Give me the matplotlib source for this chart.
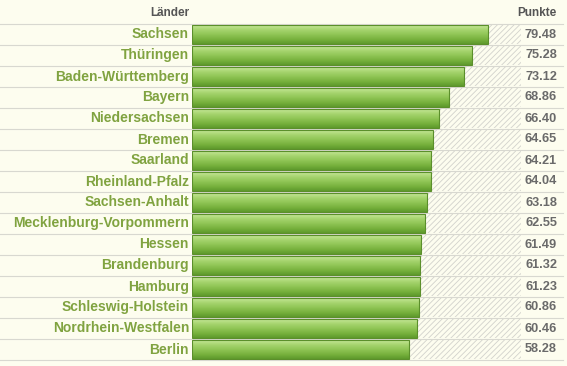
import matplotlib.pyplot as plt
import numpy as np
from matplotlib.colors import LinearSegmentedColormap
from matplotlib.transforms import blended_transform_factory

# Data
laender = ['Sachsen', 'Thüringen', 'Baden-Württemberg', 'Bayern', 'Niedersachsen',
           'Bremen', 'Saarland', 'Rheinland-Pfalz', 'Sachsen-Anhalt',
           'Mecklenburg-Vorpommern', 'Hessen', 'Brandenburg', 'Hamburg',
           'Schleswig-Holstein', 'Nordrhein-Westfalen', 'Berlin']
punkte = [79.48, 75.28, 73.12, 68.86, 66.40, 64.65, 64.21, 64.04, 63.18,
          62.55, 61.49, 61.32, 61.23, 60.86, 60.46, 58.28]
max_punkte = 88.3

plt.rcParams['font.family'] = ['Liberation Sans', 'DejaVu Sans']
plt.rcParams['hatch.linewidth'] = 0.6

bg = '#fdfdef'
fig = plt.figure(figsize=(5.67, 3.66), dpi=100, facecolor=bg)
W, H = 567, 366
ax = fig.add_axes([192 / W, (366 - 360) / H, (521 - 192) / W, 336 / H])
ax.set_facecolor(bg)
ax.set_xlim(0, max_punkte)
ax.set_ylim(len(laender) - 0.5, -0.5)
ax.axis('off')

green = LinearSegmentedColormap.from_list(
    'g', ['#5e9a2c', '#78b23e', '#8fc555', '#a6d46e', '#c4e697'])
grad = np.linspace(0, 1, 64).reshape(-1, 1)

for i, v in enumerate(punkte):
    # hatched remainder
    ax.barh(i, max_punkte - v, left=v, height=0.92, facecolor='none',
            edgecolor='#d2d2cc', hatch='//////', linewidth=0)
    # gradient bar
    ax.imshow(grad, cmap=green, aspect='auto', origin='lower',
              extent=[0, v, i + 0.43, i - 0.43], zorder=2)
    ax.barh(i, v, height=0.86, facecolor='none', edgecolor='#5b8f2b',
            linewidth=0.8, zorder=3)

# row separators across the full width
tr = blended_transform_factory(fig.transFigure, ax.transData)
for k in range(len(laender) + 1):
    ax.plot([0, 563 / W], [k - 0.5, k - 0.5], color='#d8d8d0', lw=0.8,
            transform=tr, clip_on=False, zorder=1)

for i, (name, v) in enumerate(zip(laender, punkte)):
    ax.text(189 / W, i, name, transform=tr, ha='right', va='center',
            fontsize=10, fontweight='bold', color='#80a340')
    ax.text(557 / W, i, f'{v:.2f}', transform=tr, ha='right', va='center',
            fontsize=9.2, fontweight='bold', color='#6a6a6a')

fig.text(189 / W, 1 - 13 / H, 'Länder', ha='right', va='center',
         fontsize=8.5, fontweight='bold', color='#555555')
fig.text(557 / W, 1 - 13 / H, 'Punkte', ha='right', va='center',
         fontsize=8.5, fontweight='bold', color='#555555')

fig.savefig('out.png', dpi=100, facecolor=bg)
